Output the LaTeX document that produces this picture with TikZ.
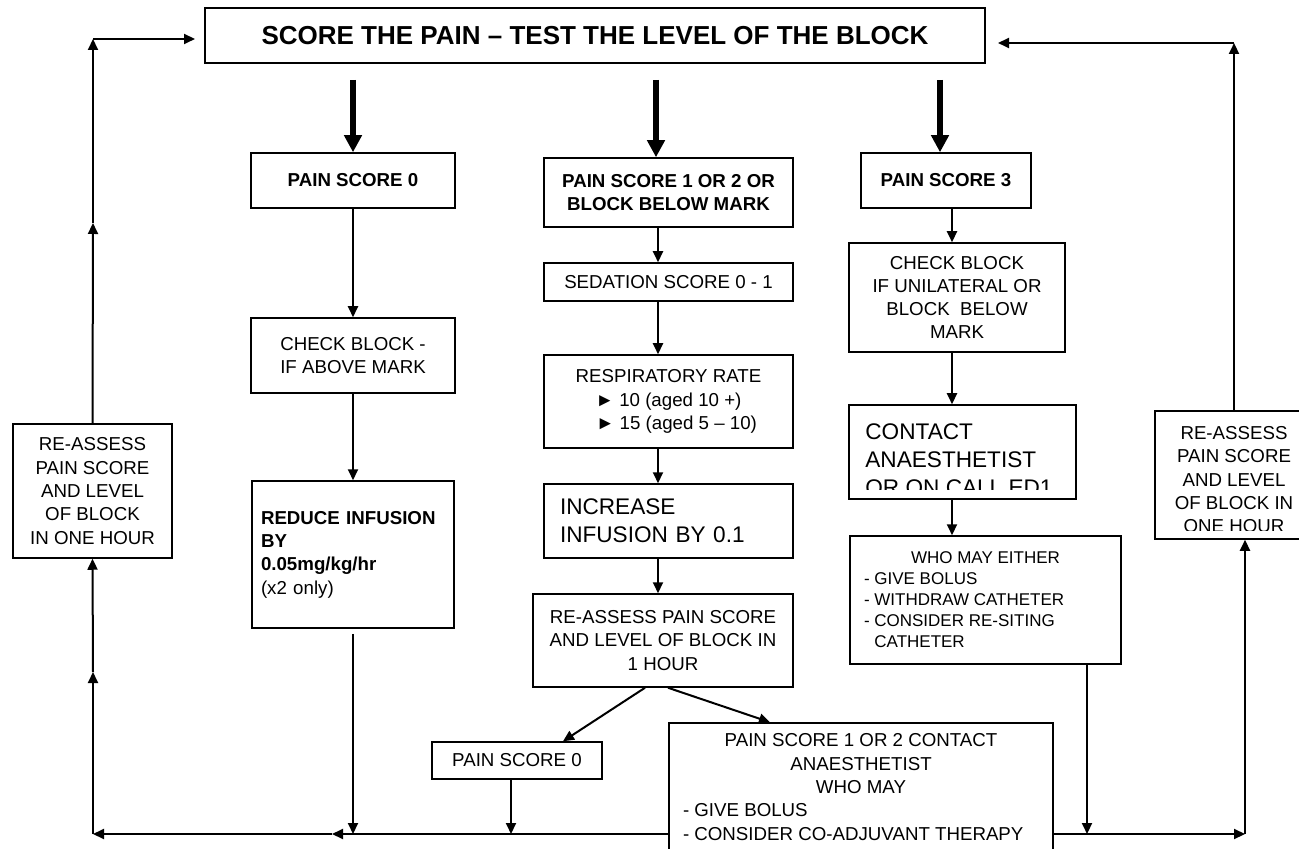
\documentclass[tikz,border=0pt]{standalone}
\usepackage{fontspec}
\setmainfont{Liberation Sans}
\usepackage{tikz}
\usetikzlibrary{arrows.meta,positioning,calc}
\newcommand{\txtnormal}{\fontsize{9.35pt}{11.65pt}\selectfont}
\newcommand{\txtsmall}{\fontsize{8.5pt}{10.5pt}\selectfont}
\newcommand{\txtlarge}{\fontsize{11.3pt}{14pt}\selectfont}
\newcommand{\txttitle}{\fontsize{13pt}{15pt}\selectfont\bfseries}
\tikzstyle{box}=[draw,line width=0.75pt,inner sep=0pt,align=center,font=\txtnormal]
\tikzstyle{arr}=[line width=1pt,-{Triangle[length=5.5pt,width=5pt]}]
\tikzstyle{bigarr}=[line width=2.6pt,-{Triangle[length=8.5pt,width=8.5pt]}]

\begin{document}
\begin{tikzpicture}[x=0.5pt,y=-0.5pt]
\useasboundingbox (0,0) rectangle (1299,849);
\clip (0,0) rectangle (1299,849);
\fill[white] (0,0) rectangle (1299,849);

\node[box,font=\txttitle,minimum width=390pt,minimum height=27.5pt] (title) at (595,35.5) {SCORE THE PAIN – TEST THE LEVEL OF THE BLOCK};

\node[box,font=\txtnormal\bfseries,minimum width=102pt,minimum height=27.5pt] (ps0) at (353,180.5) {PAIN SCORE 0};
\node[box,font=\txtnormal\bfseries,minimum width=124.5pt,minimum height=34.5pt] (ps12) at (668.5,192.5) {PAIN SCORE 1 OR 2 OR\\BLOCK BELOW MARK};
\node[box,font=\txtnormal\bfseries,minimum width=85pt,minimum height=27.5pt] (ps3) at (946,180.5) {PAIN SCORE 3};

\node[box,minimum width=102pt,minimum height=37.5pt] (chk0) at (353,355.5) {CHECK BLOCK -\\IF ABOVE MARK};
\node[box,font=\txtnormal\bfseries,minimum width=101pt,minimum height=73.5pt,text width=92pt,align=left] (reduce) at (353,554.5) {REDUCE INFUSION\\BY\\0.05mg/kg/hr\\{\mdseries (x2 only)}};

\node[box,minimum width=124.5pt,minimum height=19pt] (sed) at (668.5,282) {SEDATION SCORE 0 - 1};
\node[box,minimum width=124.5pt,minimum height=46.5pt] (resp) at (668.5,401.5) {RESPIRATORY RATE\\► 10 (aged 10 +)\\\hspace{8pt}► 15 (aged 5 – 10)};
\node[box,font=\txtlarge,minimum width=124.5pt,minimum height=37pt,text width=108.5pt,align=left] (incr) at (668.5,521) {INCREASE\\INFUSION BY 0.1};
\node[box,minimum width=130pt,minimum height=46.5pt] (reas) at (663,640.5) {RE-ASSESS PAIN SCORE\\AND LEVEL OF BLOCK IN\\1 HOUR};
\node[box,minimum width=85pt,minimum height=18.5pt] (ps0b) at (517,760.5) {PAIN SCORE 0};
\node[box,minimum width=192pt,minimum height=64pt] (adv) at (861,787) {\begin{minipage}{178pt}\centering PAIN SCORE 1 OR 2 CONTACT\\ANAESTHETIST\\WHO MAY\par\raggedright - GIVE BOLUS\\- CONSIDER CO-ADJUVANT THERAPY\end{minipage}};

\node[box,minimum width=108pt,minimum height=54.5pt] (chk3) at (957,297.5) {CHECK BLOCK\\IF UNILATERAL OR\\BLOCK\ \ BELOW\\MARK};
\node[box,minimum width=113.5pt,minimum height=47pt] (contact) at (962.5,452) {};
\begin{scope}
\clip (contact.north west) rectangle ([yshift=5pt]contact.south east);
\node[font=\txtlarge,align=left,anchor=north west,inner sep=0pt] (contacttxt) at (865,423) {CONTACT\\ANAESTHETIST\\OR ON CALL ED1};
\end{scope}
\node[box,font=\txtsmall,minimum width=135.5pt,minimum height=64pt] (who) at (985.5,600) {\begin{minipage}{121.5pt}\centering WHO MAY EITHER\par\raggedright - GIVE BOLUS\\- WITHDRAW CATHETER\\- CONSIDER RE-SITING\\\hphantom{- }CATHETER\end{minipage}};

\node[box,minimum width=79.5pt,minimum height=67pt] (lre) at (92.5,491) {RE-ASSESS\\PAIN SCORE\\AND LEVEL\\OF BLOCK\\IN ONE HOUR};
\node[box,minimum width=79pt,minimum height=64pt] (rre) at (1234,475) {};
\begin{scope}
\clip (rre.north west) rectangle ([yshift=4.5pt]rre.south east);
\node[font=\txtnormal,align=center,anchor=north,inner sep=0pt] (rretxt) at (1234,426) {RE-ASSESS\\PAIN SCORE\\AND LEVEL\\OF BLOCK IN\\ONE HOUR};
\end{scope}

\coordinate (t1) at (353,80);
\coordinate (t2) at (656,80);
\coordinate (t3) at (940,80);
\coordinate (mc) at (658,0);
\coordinate (rc) at (952,0);
\coordinate (wc) at (1087,0);
\coordinate (bl) at (93,834);
\coordinate (bm) at (332,834);
\coordinate (br) at (1245,834);
\coordinate (lmid) at (93,672);
\coordinate (lup) at (93,223);
\coordinate (ltop) at (93,39);
\coordinate (lend) at (195,39);
\coordinate (rtop) at (1234,43);
\coordinate (rend) at (998,43);

\draw[bigarr] (t1) -- (t1 |- ps0.north);
\draw[bigarr] (t2) -- (t2 |- ps12.north);
\draw[bigarr] (t3) -- (t3 |- ps3.north);

\draw[arr] (ps0.south) -- (chk0.north);
\draw[arr] (chk0.south) -- (reduce.north);
\draw[arr] ([yshift=-2.5pt]reduce.south) -- (reduce.south |- bl);

\draw[arr] (ps12.south -| mc) -- (sed.north -| mc);
\draw[arr] (sed.south -| mc) -- (resp.north -| mc);
\draw[arr] (resp.south -| mc) -- (incr.north -| mc);
\draw[arr] (incr.south -| mc) -- (reas.north -| mc);
\draw[arr] ([xshift=-9pt]reas.south) -- ([xshift=23pt]ps0b.north);
\draw[arr] ([xshift=2.5pt]reas.south) -- ([xshift=-45.5pt]adv.north);
\draw[arr] ([xshift=-3pt]ps0b.south) -- ([xshift=-3pt]ps0b.south |- bl);

\draw[arr] (ps3.south -| rc) -- (chk3.north -| rc);
\draw[arr] (chk3.south -| rc) -- (contact.north -| rc);
\draw[arr] (contact.south -| rc) -- (who.north -| rc);
\draw[arr] (who.south -| wc) -- (wc |- bl);

\draw[arr] (adv.west |- bl) -- (bm);
\draw[arr] (bm) -- (bl);
\draw[arr] (bl) -- (lmid);
\draw[arr] (lmid) -- (lre.south);
\draw[arr] (lre.north) -- (lup);
\draw[arr] (lup) -- (ltop);
\draw[arr] (ltop) -- (lend);

\draw[arr] (adv.east |- bl) -- (br);
\draw[arr] (br) -- (br |- rre.south);
\draw[arr] (rre.north) -- (rtop);
\draw[arr] (rtop) -- (rend);
\end{tikzpicture}
\end{document}
